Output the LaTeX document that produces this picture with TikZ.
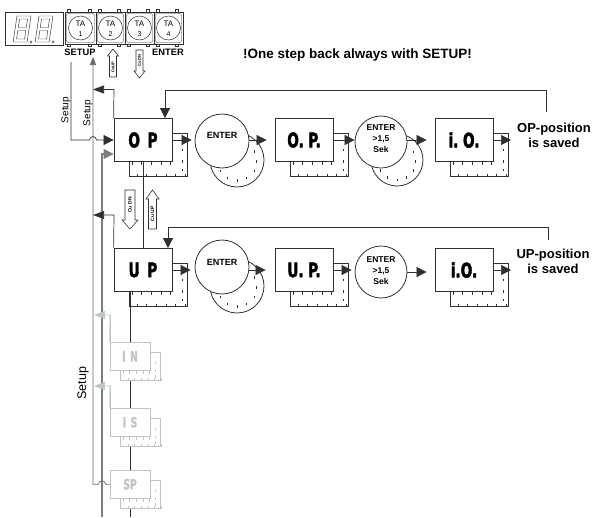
\documentclass[tikz,border=0pt]{standalone}
\usepackage{fontspec}
\setmainfont{Liberation Sans}
\newfontfamily\condfont{DejaVu Sans Condensed}
\usetikzlibrary{arrows.meta}
\definecolor{lgray}{HTML}{BFC4C4}
\definecolor{lgtext}{HTML}{C4C4C4}
\definecolor{mgray}{HTML}{7C7C7C}
\definecolor{dline}{HTML}{303030}

\newcommand\bigtxt[1]{\scalebox{0.76}[1]{\condfont\bfseries\addfontfeature{FakeBold=2.5}\fontsize{20}{20}\selectfont #1}}
\newcommand\grtxt[1]{\scalebox{0.74}[1]{\condfont\bfseries\addfontfeature{FakeBold=2}\fontsize{14}{14}\selectfont #1}}

\newcommand\boxshadow[6]{% left, top, w, h, off, colour
  \draw[line width=0.8pt, draw=#6, fill=white] (#1+#5,#2+#5) rectangle (#1+#3+#5,#2+#4+#5);
  \foreach \f in {0,...,4} {\draw[tickst, draw=#6] (#1+#5+3+\f*#3/6,#2+#4+0.5) -- ++(0,3);}
  \foreach \f in {0,...,5} {\draw[tickst, draw=#6] (#1+#5+8+\f*#3/6,#2+#4+#5) -- ++(0,-3);}
  \foreach \g in {0.35,0.62,0.82} {\draw[tickst, draw=#6] (#1+#3+#5-5,#2+#5+\g*#4) -- ++(0,2.5);}
}
\newcommand\circshadow[5]{% cx, cy, r, dx, dy
  \draw[line width=0.8pt, draw=dline, fill=white] (#1+#4,#2+#5) circle[radius=#3];
  \foreach \a in {-30,0,30,60,90,120,150} {\draw[tickst, shift={(#1+#4,#2+#5)}] (\a:{0.72*#3}) -- ++(0,2.5);}
}

\begin{document}
\begin{tikzpicture}[x=1pt,y=-1pt,
  tickst/.style={line width=0.6pt, draw=dline},
  ln/.style={line width=0.7pt, draw=dline},
  tri/.style={-{Triangle[length=10pt,width=10pt]}},
  trileft/.style={-{Triangle[length=11pt,width=8pt]}},
  triup/.style={-{Triangle[length=8pt,width=6pt]}},
  mbox/.style={draw=dline, line width=0.8pt, fill=white, minimum width=58pt, minimum height=43pt, inner sep=0pt},
  gbox/.style={draw=lgray, line width=0.8pt, fill=white, minimum width=40pt, minimum height=28.5pt, inner sep=0pt, text=lgtext},
  mcirc/.style={draw=dline, line width=0.8pt, fill=white, circle, inner sep=0pt},
  btxt/.style={font=\bfseries\fontsize{9}{11}\selectfont, inner sep=0pt, align=center},
  ctxt/.style={font=\bfseries\fontsize{8.5}{11}\selectfont, inner sep=0pt, align=center},
  bigbold/.style={font=\bfseries\fontsize{13}{15}\selectfont, inner sep=0pt, align=center},
  hollow/.style={draw=dline, line width=0.6pt, fill=white},
  tiny/.style={font=\bfseries\fontsize{4}{4}\selectfont, inner sep=0pt, rotate=90},
  small/.style={font=\bfseries\fontsize{5}{5}\selectfont, inner sep=0pt, rotate=90},
  setuplbl/.style={font=\fontsize{10}{12}\selectfont, inner sep=0pt, rotate=90}
]
\useasboundingbox (0,0) rectangle (596,517);

% ---- 7-segment display
\draw[line width=0.5pt, draw=dline] (5,12) rectangle (63,45);
\foreach \dx in {0,22} {
  \begin{scope}[shift={(17+\dx,16)}, xslant=0.15, line width=0.45pt, draw=dline]
    \draw (0,0) rectangle (14,26);
    \draw (3,3) rectangle (11,11.5);
    \draw (3,14.5) rectangle (11,23);
  \end{scope}
  \draw[line width=0.4pt, draw=dline] (31+\dx,42) circle[radius=1.2];
}

% ---- keys
\foreach \i/\l/\r in {1/65/96,2/96/125,3/125/154,4/154/183} {
  \draw[line width=0.5pt, draw=dline] (\l,12) rectangle (\r,44);
  \draw[line width=0.35pt, draw=dline, rounded corners=2pt] (\l+1.5,13.5) rectangle (\r-1.5,42.5);
  \draw[line width=0.4pt, draw=dline] (\l+2,9.5) rectangle (\l+5,12);
  \draw[line width=0.4pt, draw=dline] (\r-8,9.5) rectangle (\r-5,12);
  \draw[line width=0.4pt, draw=dline] (\l+2,44) rectangle (\l+5,46.5);
  \draw[line width=0.4pt, draw=dline] (\r-8,44) rectangle (\r-5,46.5);
  \node[draw=dline, line width=0.5pt, circle, minimum size=24pt, inner sep=0pt, fill=white] (ta\i) at ({(\l+\r)/2},28) {};
  \node[font=\fontsize{8}{8}\selectfont, inner sep=0pt] at ({(\l+\r)/2},23.5) {TA};
  \node[font=\fontsize{7}{7}\selectfont, inner sep=0pt] at ({(\l+\r)/2},34) {\i};
}
\node[btxt, font=\bfseries\fontsize{9.3}{11}\selectfont] (setupkey) at (80,52) {SETUP};
\node[btxt, font=\bfseries\fontsize{9.3}{11}\selectfont] (enterkey) at (168,52) {ENTER};
\node[font=\bfseries\fontsize{13.5}{15}\selectfont, inner sep=0pt] (title) at (357.5,55) {!One step back always with SETUP!};

% ---- hollow arrows under keys
\draw[hollow] (113,49) -- (118.5,56) -- (116.5,56) -- (116.5,77) -- (109.5,77) -- (109.5,56) -- (107.5,56) -- cycle;
\node[tiny] (cuup1) at (113,67) {CuUP};
\draw[hollow] (136,50) -- (143,50) -- (143,71) -- (145,71) -- (139.5,78) -- (134,71) -- (136,71) -- cycle;
\node[tiny] (cudn1) at (139.5,60.5) {CuDN};

% ---- setup labels
\node[setuplbl] (set1) at (66,110) {Setup};
\node[setuplbl] (set2) at (88,113) {Setup};
\node[setuplbl, font=\fontsize{12.5}{14}\selectfont] (set3) at (83,383) {Setup};

% ---- coordinates of free ends
\coordinate (aTop) at (71,62);
\coordinate (bTop) at (93,57);
\coordinate (cBot) at (102,517);
\coordinate (dBot) at (130,517);
\coordinate (fbOP) at (546,112);
\coordinate (fbUP) at (548,240);
\coordinate (endOP) at (511,140);
\coordinate (endUP) at (511,270);

% ---- long vertical lines
\draw[line width=1.1pt, draw=mgray] (cBot) -- (102,154) -- (104,154);
\draw[line width=0.7pt, draw=lgray] (110,342) -- (110,315);
\draw[line width=0.7pt, draw=lgray] (110,408) -- (110,386);

% ---- boxes
\boxshadow{114}{118.5}{58}{43}{15}{dline}
\node[mbox] (OP) at (143,140) {\bigtxt{O\hskip 10pt P}};
\boxshadow{275}{118.5}{58}{43}{15}{dline}
\node[mbox] (OP2) at (304,140) {\bigtxt{O.\hskip 6pt P.}};
\boxshadow{435}{118.5}{58}{43}{15}{dline}
\node[mbox] (IO) at (464,140) {\bigtxt{i.\hskip 6pt O.}};

\boxshadow{114}{248.5}{58}{43}{15}{dline}
\node[mbox] (UP) at (143,270) {\bigtxt{U\hskip 10pt P}};
\boxshadow{275}{248.5}{58}{43}{15}{dline}
\node[mbox] (UP2) at (304,270) {\bigtxt{U.\hskip 6pt P.}};
\boxshadow{435}{248.5}{58}{43}{15}{dline}
\node[mbox] (IO2) at (464,270) {\bigtxt{i.O.}};

% vertical connectors
\draw[ln] (OP.south) -- (UP.north);
\draw[ln] (130,291.5) -- (dBot);

\boxshadow{110}{342}{40}{28.5}{10}{lgray}
\node[gbox] (IN) at (130,356.25) {\grtxt{I\hskip 6pt N}};
\boxshadow{110}{408}{40}{28.5}{10}{lgray}
\node[gbox] (IS) at (130,422.25) {\grtxt{I\hskip 6pt S}};
\boxshadow{110}{470}{40}{28.5}{10}{lgray}
\node[gbox] (SP) at (130,484.25) {\grtxt{SP}};

% ---- circles
\circshadow{222}{141}{27}{15}{19}
\node[mcirc, minimum size=54pt] (c1) at (222,141) {};
\node[btxt] (c1t) at (222,135) {ENTER};
\circshadow{381}{142}{26}{16}{18}
\node[mcirc, minimum size=52pt] (c2) at (381,142) {};
\node[ctxt] (c2t) at (381,139) {ENTER\\>1,5\\Sek};

\circshadow{222}{267}{27}{15}{19}
\node[mcirc, minimum size=54pt] (c3) at (222,267) {};
\node[btxt] (c3t) at (222,262) {ENTER};
\node[mcirc, minimum size=52pt] (c4) at (381,272) {};
\node[ctxt] (c4t) at (381,271) {ENTER\\>1,5\\Sek};

% ---- row arrows
\draw[ln, tri, shorten >=3pt] (OP.east) -- (OP.east -| c1.west);
\draw[ln, tri, shorten >=8pt] (c1.east |- OP2.west) -- (OP2.west);
\draw[ln, tri] (OP2.east) -- (OP2.east -| c2.west);
\draw[ln, tri, shorten >=8pt] (c2.east |- IO.west) -- (IO.west);
\draw[ln, tri] (IO.east) -- (endOP);

\draw[ln, tri, shorten >=4pt] (UP.east) -- (UP.east -| c3.west);
\draw[ln, tri, shorten >=9pt] (c3.east |- UP2.west) -- (UP2.west);
\draw[ln, tri, shorten >=3pt] (UP2.east) -- (UP2.east -| c4.west);
\draw[ln, tri, shorten >=8pt] (c4.east) -- (c4.east -| IO2.west);
\draw[ln, tri] (IO2.east) -- (endUP);

% ---- feedback arrows
\draw[ln, tri] (fbOP) -- (546,90) -| ([xshift=22pt]OP.north);
\draw[ln, tri] (fbUP) -- (548,227) -| ([xshift=25pt]UP.north);
\node[bigbold] (opsaved) at (554,135.5) {OP-position\\is saved};
\node[bigbold] (upsaved) at (553,261) {UP-position\\is saved};

% ---- left-side lines
\draw[ln, tri] (aTop) -- (71,140) -- (89.5,140) arc[start angle=180, end angle=0, radius=3.5pt] -- (OP.west);
\draw[line width=1.1pt, draw=mgray, tri] (104,154) -- ([yshift=-14pt]OP.west);
\draw[line width=0.7pt, draw=black!60, triup] (SP.west) -- (105.5,484.25) arc[start angle=0, end angle=180, radius=3.5pt] -- (93,484.25) -- (bTop);
\draw[ln, trileft] (OP.north west) -- (114,89.5) -- (93,89.5);
\draw[ln, trileft] (UP.north west) -- (114,215) -- (93,215);
\draw[line width=0.7pt, draw=lgray, trileft] (IN.north west) -- (110,315) -- (94,315);
\draw[line width=0.7pt, draw=lgray, trileft] (IS.north west) -- (110,386) -- (94,386);

% ---- hollow arrows between rows
\draw[hollow] (125,190) -- (135,190) -- (135,220) -- (138,220) -- (130,229) -- (122,220) -- (125,220) -- cycle;
\node[small] (cudn2) at (130,205) {Cu DN};
\draw[hollow] (152.5,190) -- (159,199) -- (156.5,199) -- (156.5,229) -- (148.5,229) -- (148.5,199) -- (146,199) -- cycle;
\node[small] (cuup2) at (152.5,214) {Cu UP};
\end{tikzpicture}
\end{document}
